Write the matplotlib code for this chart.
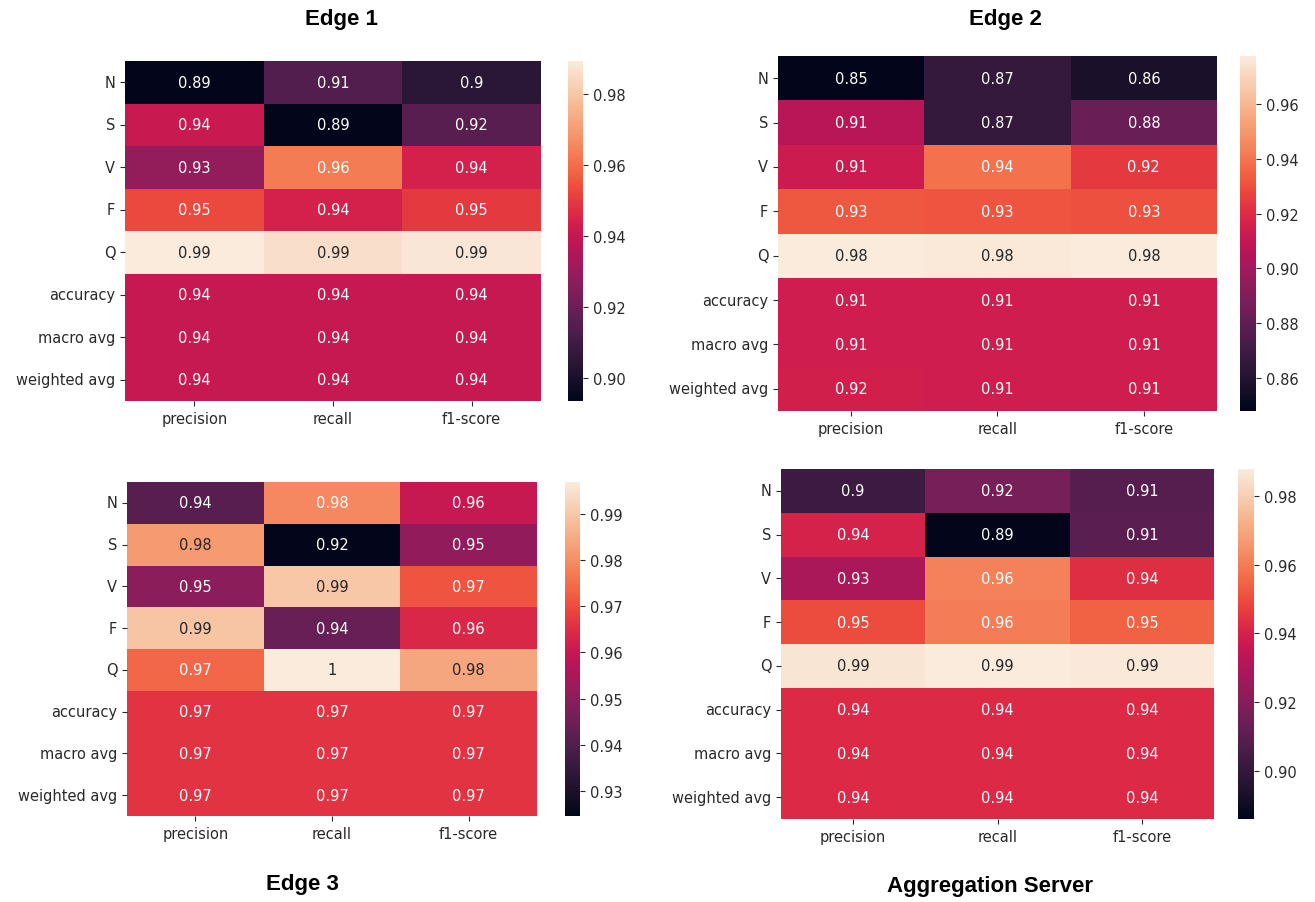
import matplotlib
matplotlib.use("Agg")
import matplotlib.pyplot as plt
import numpy as np
import pandas as pd
import seaborn as sns

plt.rcParams["font.family"] = ["DejaVu Sans"]

rows = ["N", "S", "V", "F", "Q", "accuracy", "macro avg", "weighted avg"]
cols = ["precision", "recall", "f1-score"]

edge1_precision = [0.8935, 0.941, 0.929, 0.953, 0.9893, 0.9405, 0.9405, 0.9405]
edge1_recall    = [0.914, 0.8937, 0.963, 0.944, 0.986, 0.9405, 0.9405, 0.9405]
edge1_f1        = [0.904, 0.9155, 0.944, 0.950, 0.988, 0.9405, 0.9405, 0.9405]

edge2_precision = [0.848, 0.907, 0.913, 0.932, 0.9775, 0.914, 0.914, 0.9152]
edge2_recall    = [0.866, 0.866, 0.939, 0.931, 0.976, 0.914, 0.914, 0.914]
edge2_f1        = [0.857, 0.883, 0.924, 0.930, 0.977, 0.914, 0.914, 0.914]

edge3_precision = [0.941, 0.982, 0.950, 0.9895, 0.974, 0.966, 0.966, 0.966]
edge3_recall    = [0.979, 0.9245, 0.990, 0.944, 0.997, 0.966, 0.966, 0.966]
edge3_f1        = [0.960, 0.951, 0.971, 0.964, 0.984, 0.966, 0.966, 0.966]

agg_precision = [0.902, 0.940, 0.929, 0.950, 0.986, 0.942, 0.942, 0.942]
agg_recall    = [0.917, 0.886, 0.961, 0.960, 0.9878, 0.942, 0.942, 0.942]
agg_f1        = [0.909, 0.910, 0.943, 0.954, 0.9868, 0.942, 0.942, 0.942]

titles = ["Edge 1", "Edge 2", "Edge 3", "Aggregation Server"]

W, H = 1315, 903
fig = plt.figure(figsize=(W / 100, H / 100), dpi=100)
fig.patch.set_facecolor("white")


def rect(x0, y0, x1, y1):
    return [x0 / W, 1 - y1 / H, (x1 - x0) / W, (y1 - y0) / H]


panels = [
    ((edge1_precision, edge1_recall, edge1_f1), rect(125, 62, 541, 402), rect(568, 62, 583, 402)),
    ((edge2_precision, edge2_recall, edge2_f1), rect(778, 57, 1217, 412), rect(1240, 57, 1256, 412)),
    ((edge3_precision, edge3_recall, edge3_f1), rect(127, 483, 537, 817), rect(565, 483, 580, 817)),
    ((agg_precision, agg_recall, agg_f1), rect(781, 470, 1214, 820), rect(1238, 470, 1254, 820)),
]

for (p, r, f), hr, cr in panels:
    df = pd.DataFrame({cols[0]: p, cols[1]: r, cols[2]: f}, index=rows)
    ax = fig.add_axes(hr)
    cax = fig.add_axes(cr)
    sns.heatmap(df, annot=True, cmap="rocket", ax=ax, cbar_ax=cax,
                annot_kws={"fontsize": 10.5})
    ax.tick_params(axis="both", labelsize=10.5, colors="#2a2a2a")
    ax.set_yticklabels(ax.get_yticklabels(), rotation=0)
    ax.set_xticklabels(ax.get_xticklabels(), rotation=0)
    cax.tick_params(labelsize=10.5, colors="#2a2a2a")

title_pos = [(341, 20), (1005, 20), (302, 885), (990, 887)]
for t, (x, y) in zip(titles, title_pos):
    fig.text(x / W, 1 - y / H, t, ha="center", va="center",
             fontsize=16, fontweight="bold", family="Liberation Sans")

fig.savefig("out.png", dpi=100, facecolor="white")
